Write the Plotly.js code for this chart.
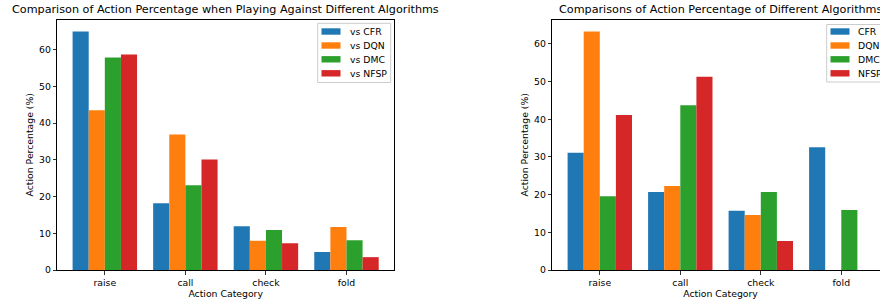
<!DOCTYPE html>
<html>
<head>
<meta charset="utf-8">
<script src="https://cdn.plot.ly/plotly-3.0.1.min.js"></script>
<style>
html,body{margin:0;padding:0;overflow:hidden;background:#fff;width:880px;height:303px;}
#chart{width:900px;height:303px;}
</style>
</head>
<body>
<div id="chart"></div>
<script>
const categories = ["raise", "call", "check", "fold"];

// Left chart: action percentage when playing against different algorithms
const leftNames = ["vs CFR", "vs DQN", "vs DMC", "vs NFSP"];
const vsCFR  = [65.0, 18.2, 11.9, 4.9];
const vsDQN  = [43.5, 36.9, 8.0, 11.7];
const vsDMC  = [57.9, 23.1, 10.9, 8.1];
const vsNFSP = [58.7, 30.1, 7.3, 3.5];

// Right chart: action percentage of different algorithms
const rightNames = ["CFR", "DQN", "DMC", "NFSP"];
const algCFR  = [31.1, 20.7, 15.7, 32.6];
const algDQN  = [63.3, 22.3, 14.6, 0.0];
const algDMC  = [19.6, 43.7, 20.7, 15.9];
const algNFSP = [41.1, 51.3, 7.7, 0.0];

const yTicks = [0, 10, 20, 30, 40, 50, 60];
const colors = ["#1f77b4", "#ff7f0e", "#2ca02c", "#d62728"];

const W = 900, H = 303;
const FONT = "DejaVu Sans, sans-serif";
const FS = 9.3;

const leftSeries = [vsCFR, vsDQN, vsDMC, vsNFSP];
const rightSeries = [algCFR, algDQN, algDMC, algNFSP];

const traces = [];
leftSeries.forEach((vals, i) => {
  traces.push({type: "bar", x: categories, y: vals, name: leftNames[i], showlegend: false,
    marker: {color: colors[i], line: {width: 0}}, xaxis: "x", yaxis: "y"});
});
rightSeries.forEach((vals, i) => {
  traces.push({type: "bar", x: categories, y: vals, name: rightNames[i], showlegend: false,
    marker: {color: colors[i], line: {width: 0}}, xaxis: "x2", yaxis: "y2"});
});

const maxL = Math.max(...leftSeries.flat());
const maxR = Math.max(...rightSeries.flat());

const px = v => v / W;
const py = v => 1 - v / H;

function xax(domain, anchor) {
  return {domain: domain, anchor: anchor, type: "category", range: [-0.59, 3.59],
    showline: true, linecolor: "#000", linewidth: 1, mirror: true,
    ticks: "outside", ticklen: 3.5, tickwidth: 0.8, tickcolor: "#000",
    tickfont: {family: FONT, size: FS, color: "#000"},
    showgrid: false, zeroline: false, automargin: false,
    title: {text: "Action Category", font: {family: FONT, size: FS, color: "#000"}, standoff: 3}};
}
function yax(domain, anchor, maxV) {
  return {domain: domain, anchor: anchor, range: [0, maxV * 1.05],
    tickvals: yTicks, showline: true, linecolor: "#000", linewidth: 1, mirror: true,
    ticks: "outside", ticklen: 3.5, tickwidth: 0.8, tickcolor: "#000",
    tickfont: {family: FONT, size: FS, color: "#000"},
    showgrid: false, zeroline: false, automargin: false,
    title: {text: "Action Percentage (%)", font: {family: FONT, size: FS, color: "#000"}, standoff: 3}};
}

const yDom = [py(270), py(19.5)];

// Hand-drawn legends (matplotlib style: compact rows)
const shapes = [];
const annotations = [
  {text: "Comparison of Action Percentage when Playing Against Different Algorithms",
   xref: "paper", yref: "paper", x: px(225.6), y: py(10), xanchor: "center", yanchor: "middle",
   showarrow: false, font: {family: FONT, size: 11.2, color: "#000"}},
  {text: "Comparisons of Action Percentage of Different Algorithms",
   xref: "paper", yref: "paper", x: px(720.5), y: py(10), xanchor: "center", yanchor: "middle",
   showarrow: false, font: {family: FONT, size: 11.2, color: "#000"}}
];
function addLegend(names, box, swX, txtX, rows) {
  shapes.push({type: "rect", xref: "paper", yref: "paper",
    x0: px(box[0]), x1: px(box[1]), y0: py(box[2]), y1: py(box[3]),
    line: {color: "#cccccc", width: 1}, fillcolor: "rgba(255,255,255,0.8)", layer: "above"});
  names.forEach((n, i) => {
    const c = rows[i];
    shapes.push({type: "rect", xref: "paper", yref: "paper",
      x0: px(swX), x1: px(swX + 19), y0: py(c + 3.2), y1: py(c - 3.2),
      line: {width: 0}, fillcolor: colors[i], layer: "above"});
    annotations.push({text: n, xref: "paper", yref: "paper", x: px(txtX), y: py(c),
      xanchor: "left", yanchor: "middle", showarrow: false,
      font: {family: FONT, size: FS, color: "#000"}});
  });
}
addLegend(leftNames, [317.7, 390.7, 23.3, 82.5], 321.5, 347.5, [31.5, 45.5, 59.3, 73.3]);
addLegend(rightNames, [826.7, 905, 24.5, 82], 830.5, 856.2, [31.5, 45.5, 59.3, 73.3]);

const layout = {
  width: W, height: H,
  margin: {l: 0, r: 0, t: 0, b: 0},
  paper_bgcolor: "#fff", plot_bgcolor: "#fff",
  font: {family: FONT, size: FS, color: "#000"},
  barmode: "group", bargap: 0.2, bargroupgap: 0,
  showlegend: false,
  xaxis: xax([px(57.3), px(394)], "y"),
  yaxis: yax(yDom, "x", maxL),
  xaxis2: xax([px(552.3), px(888.8)], "y2"),
  yaxis2: yax(yDom, "x2", maxR),
  shapes: shapes,
  annotations: annotations
};

Plotly.newPlot("chart", traces, layout, {displayModeBar: false, staticPlot: true});
</script>
</body>
</html>
